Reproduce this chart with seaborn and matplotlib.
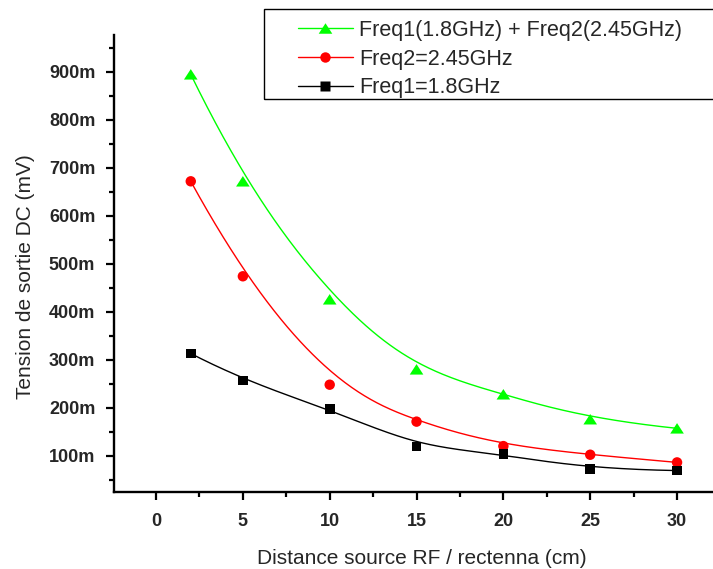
import numpy as np
import matplotlib
matplotlib.use('Agg')
import matplotlib.pyplot as plt
from matplotlib.lines import Line2D
from matplotlib.patches import Rectangle
from matplotlib.ticker import MultipleLocator, FuncFormatter
import seaborn as sns

# Donnees (tension en V)
distance = [2, 5, 10, 15, 20, 25, 30]
v_freq1 = [0.313, 0.257, 0.198, 0.119, 0.104, 0.072, 0.069]
v_freq2 = [0.672, 0.474, 0.248, 0.171, 0.120, 0.102, 0.086]
v_both = [0.895, 0.672, 0.426, 0.280, 0.228, 0.176, 0.157]
labels = ['Freq1(1.8GHz) + Freq2(2.45GHz)', 'Freq2=2.45GHz', 'Freq1=1.8GHz']
colors = ['#00ff00', '#ff0000', '#000000']

# triangle un peu plus large que haut, comme dans Origin
tri = [(-1, -0.77), (1, -0.77), (0, 0.77), (-1, -0.77)]
markers = [tri, 'o', 's']
msizes = [9.8, 7.5, 7.0]


def bspline(xs, ys, n=300):
    """
    Courbe B-spline cubique dont les points sont les points de controle (style Origin)
    """
    P = np.column_stack([xs, ys])
    k = 3
    m = len(P)
    knots = np.concatenate([np.zeros(k), np.arange(m - k + 1), np.full(k, m - k)]).astype(float)
    t = np.linspace(0, m - k, n)
    B = np.zeros((n, len(knots) - 1))
    for i in range(len(knots) - 1):
        B[:, i] = (knots[i] <= t) & (t < knots[i + 1])
    B[-1, :] = 0
    B[-1, m - 1] = 1
    for d in range(1, k + 1):
        Bn = np.zeros((n, len(knots) - 1 - d))
        for i in range(len(knots) - 1 - d):
            den1 = knots[i + d] - knots[i]
            den2 = knots[i + d + 1] - knots[i + 1]
            if den1 > 0:
                Bn[:, i] += (t - knots[i]) / den1 * B[:, i]
            if den2 > 0:
                Bn[:, i] += (knots[i + d + 1] - t) / den2 * B[:, i + 1]
        B = Bn
    c = B @ P
    return c[:, 0], c[:, 1]


sns.set_style('ticks')
plt.rcParams['font.family'] = ['Liberation Sans', 'DejaVu Sans']

fig = plt.figure(figsize=(7.13, 5.69), dpi=100)
ax = fig.add_axes([114 / 713, 1 - 492 / 569, 1 - 114 / 713, (492 - 35) / 569])

series = [v_both, v_freq2, v_freq1]
for vals, col, mk, ms in zip(series, colors, markers, msizes):
    cx, cy = bspline(distance, vals)
    sns.lineplot(x=cx, y=cy, sort=False, estimator=None, color=col, lw=1.0, ax=ax)
    sns.scatterplot(x=distance, y=vals, marker=mk, s=ms ** 2, color=col,
                    edgecolor='none', linewidth=0, ax=ax, zorder=3)

ax.set_xlim(-2.42, 32.07)
ax.set_ylim(0.0243, 0.977)
ax.xaxis.set_major_locator(MultipleLocator(5))
ax.xaxis.set_minor_locator(MultipleLocator(2.5))
ax.yaxis.set_major_locator(MultipleLocator(0.1))
ax.yaxis.set_minor_locator(MultipleLocator(0.05))
ax.yaxis.set_major_formatter(FuncFormatter(lambda v, p: f'{v * 1000:.0f}m'))

sns.despine(ax=ax)
for s in ['left', 'bottom']:
    ax.spines[s].set_linewidth(1.7)
    ax.spines[s].set_color('black')
ax.tick_params(which='major', length=6, width=1.6, color='black')
ax.tick_params(which='minor', length=3.5, width=1.6, color='black')
ax.tick_params(axis='y', pad=7.5)
ax.tick_params(axis='x', pad=9)
for lab in ax.get_xticklabels() + ax.get_yticklabels():
    lab.set_fontweight('bold')
    lab.set_fontsize(13)

ax.set_xlabel('Distance source RF / rectenna (cm)', fontsize=15)
ax.set_ylabel('Tension de sortie DC (mV)', fontsize=15)
ax.xaxis.set_label_coords(0.5 + 8 / 599, -(549 - 492) / 457)
ax.yaxis.set_label_coords(-(114 - 35) / 599, 0.5 - (277 - 263.5) / 457)

# legende (cadre dessine a part, comme dans Origin)
handles = [Line2D([], [], color=c, marker=m, markersize=ms, lw=1.0, markeredgecolor='none')
           for c, m, ms in zip(colors, markers, msizes)]
fig.add_artist(Rectangle((264 / 713, 1 - 99 / 569), 0.7, 90 / 569,
                         transform=fig.transFigure, fill=False, ec='black', lw=1.0))
fig.legend(handles, labels, loc='upper left', bbox_to_anchor=(298 / 713, 1 - 20 / 569),
           frameon=False, fontsize=15.5, handlelength=2.55, handletextpad=0.28,
           labelspacing=0.35, borderpad=0, borderaxespad=0)

fig.savefig('out.png', dpi=100)
